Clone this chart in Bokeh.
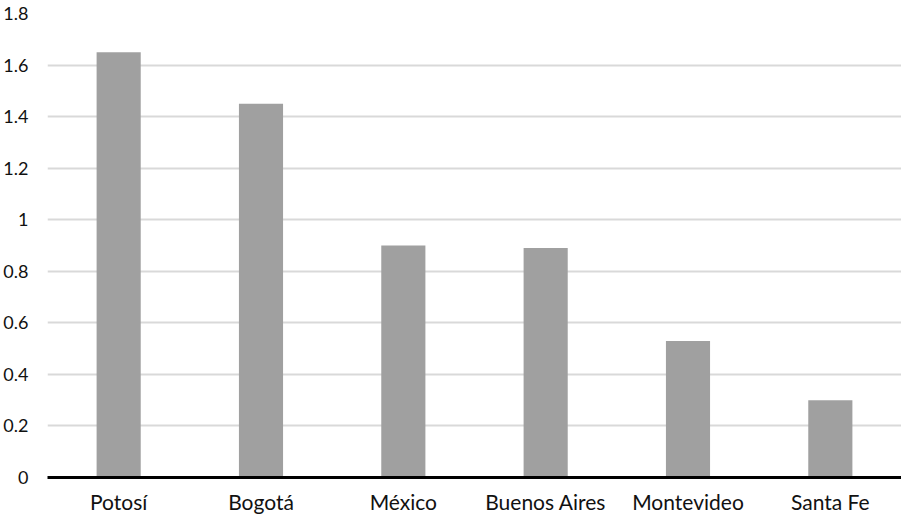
from bokeh.plotting import figure
from bokeh.models import FixedTicker, Range1d, FactorRange
from bokeh.embed import file_html
from bokeh.resources import INLINE

cities = ["Potosí", "Bogotá", "México", "Buenos Aires", "Montevideo", "Santa Fe"]
values = [1.65, 1.45, 0.90, 0.89, 0.53, 0.30]
y_ticks = [0, 0.2, 0.4, 0.6, 0.8, 1.0, 1.2, 1.4, 1.6, 1.8]
y_tick_labels = ["0", "0.2", "0.4", "0.6", "0.8", "1", "1.2", "1.4", "1.6", "1.8"]

p = figure(x_range=FactorRange(*cities, range_padding=0), y_range=Range1d(0, 1.8),
           width=901, height=516, output_backend="svg", toolbar_location=None,
           min_border_left=46, min_border_right=0, min_border_top=13, min_border_bottom=28)

p.vbar(x=cities, top=values, width=0.31, color="#a0a0a0", line_color=None)

p.outline_line_color = None
p.background_fill_color = "white"

p.xgrid.grid_line_color = None
p.ygrid.grid_line_color = "#d9d9d9"
p.ygrid.grid_line_width = 2
p.ygrid.ticker = FixedTicker(ticks=y_ticks)

p.yaxis.ticker = FixedTicker(ticks=y_ticks)
p.yaxis.major_label_overrides = {t: l for t, l in zip(y_ticks, y_tick_labels)}
p.yaxis.axis_line_color = None
p.yaxis.major_tick_line_color = None
p.yaxis.minor_tick_line_color = None
p.yaxis.major_label_standoff = 13
p.yaxis.major_label_text_font = "Lato"
p.yaxis.major_label_text_font_size = "18px"
p.yaxis.major_label_text_color = "#111111"

p.xaxis.axis_line_color = "black"
p.xaxis.axis_line_width = 3
p.xaxis.major_tick_line_color = None
p.xaxis.minor_tick_line_color = None
p.xaxis.major_label_standoff = 5
p.xaxis.major_label_text_font = "Lato"
p.xaxis.major_label_text_font_size = "21px"
p.xaxis.major_label_text_color = "#111111"

open("out.html", "w").write(file_html(p, INLINE))
